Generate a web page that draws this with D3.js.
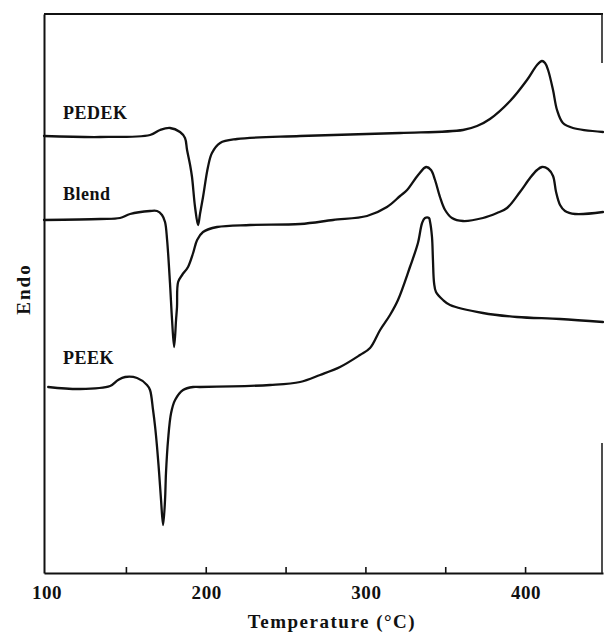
<!DOCTYPE html>
<html><head><meta charset="utf-8">
<script src="https://cdn.jsdelivr.net/npm/d3@7"></script>
<style>
body{margin:0;background:#fff}
svg text{font-family:"Liberation Serif","Times New Roman",serif;font-weight:bold;fill:#111}
</style>
</head><body><svg id="c" width="604" height="632"></svg>
<script>
// Temperature (°C), heat flow (arbitrary units, endo up)
const pedek = [
[98.7,43.7],[133.8,43.6],[165.1,43.8],[171.4,44.3],[177.6,44.5],[183.9,44.1],[187.0,43.5],[188.3,42.3],[190.2,40.8],[191.4,39.6],[193.3,36.6],[195.2,34.8],[196.4,35.9],[198.3,37.6],[201.4,40.6],[203.9,42.0],[209.0,43.0],[219.6,43.4],[259.1,43.7],[321.7,44.0],[361.1,44.3],[369.9,44.7],[378.0,45.4],[390.6,47.2],[401.2,49.3],[407.5,50.8],[410.6,51.2],[412.5,51.0],[414.4,50.3],[417.5,48.3],[420.0,46.3],[423.7,45.0],[430.0,44.5],[448.8,44.1]
];
const blend = [
[98.7,35.3],[133.8,35.4],[146.3,35.5],[152.6,35.9],[165.1,36.2],[169.5,36.2],[172.6,35.8],[174.5,35.1],[175.8,33.3],[177.6,29.0],[178.9,25.3],[180.2,22.6],[181.4,25.3],[182.0,26.6],[182.7,29.1],[185.2,29.8],[188.9,30.6],[192.1,32.0],[194.6,33.3],[198.3,34.1],[207.1,34.6],[227.7,34.8],[259.1,34.9],[279.7,35.3],[301.0,35.7],[313.5,36.6],[321.7,37.7],[326.1,38.3],[333.0,39.8],[338.0,40.6],[341.1,40.3],[343.6,39.3],[346.7,37.6],[349.9,36.3],[354.2,35.5],[361.1,35.2],[373.6,35.5],[382.4,36.0],[388.7,36.5],[396.8,38.1],[403.1,39.5],[407.5,40.3],[410.6,40.6],[414.4,40.4],[417.5,39.7],[419.4,38.1],[421.9,36.8],[425.0,36.2],[431.3,35.9],[448.8,36.1]
];
const peek = [
[101.3,18.6],[121.3,18.4],[140.1,18.7],[145.1,19.3],[149.5,19.6],[157.0,19.5],[163.2,18.8],[165.1,18.3],[167.0,16.3],[168.3,14.6],[169.5,12.6],[170.8,10.0],[172.0,7.3],[173.3,4.8],[174.5,7.3],[175.1,10.0],[176.4,13.3],[178.3,16.0],[180.8,17.3],[185.8,18.3],[192.1,18.6],[196.4,18.6],[240.3,18.8],[259.1,19.1],[271.6,19.8],[284.1,20.6],[296.6,21.8],[302.9,22.5],[309.2,24.3],[315.4,25.8],[320.4,27.3],[327.9,30.6],[332.9,33.0],[335.5,35.0],[337.3,35.5],[339.8,35.5],[340.5,35.1],[341.7,33.6],[342.3,31.3],[343.0,29.0],[344.2,28.1],[348.6,27.3],[353.0,26.8],[373.6,26.0],[394.9,25.6],[421.9,25.4],[448.8,25.1]
];
const seriesNames = ["PEDEK","Blend","PEEK"];
const labelPos = [[110.6,45.4],[110.6,37.3],[110.6,20.9]];
const tickValues = [150,200,250,300,350,400];
const tickLabels = [100,200,300,400];
const xTitle = "Temperature (°C)";
const yTitle = "Endo";

const svg = d3.select("#c");
const x = d3.scaleLinear().domain([98.7,448.8]).range([44,603]);
const y = d3.scaleLinear().domain([0,55.9]).range([573,14]);

// frame
const gx = svg.append("g").attr("transform","translate(0,573)")
  .call(d3.axisBottom(x).tickValues(tickValues).tickSize(-6).tickSizeOuter(0).tickFormat(""));
gx.select(".domain").attr("stroke","#111").attr("stroke-width",2);
gx.selectAll(".tick line").attr("stroke","#111").attr("stroke-width",1.6);
const gy = svg.append("g").attr("transform","translate(44,0)")
  .call(d3.axisLeft(y).tickValues([]).tickSizeOuter(0));
gy.select(".domain").attr("stroke","#111").attr("stroke-width",2);
svg.append("line").attr("x1",x.range()[0]).attr("x2",x.range()[1]).attr("y1",y.range()[1]).attr("y2",y.range()[1])
  .attr("stroke","#111").attr("stroke-width",2);
// right border (partially visible in the original)
[[55.9,51.0],[13.0,0]].forEach(s=>{
  svg.append("line").attr("x1",x.range()[1]-1).attr("x2",x.range()[1]-1).attr("y1",y(s[0])).attr("y2",y(s[1]))
    .attr("stroke","#222").attr("stroke-width",1.6);
});

// tick labels
svg.append("g").selectAll("text").data(tickLabels).join("text")
  .attr("x",d=>x(d)+1).attr("y",599).attr("text-anchor","middle")
  .style("font-size","19px").style("letter-spacing","0.6px").text(d=>d);

svg.append("text").attr("x",332).attr("y",628).attr("text-anchor","middle")
  .style("font-size","19px").style("letter-spacing","1.5px").text(xTitle);
svg.append("text").attr("transform","translate(30,289) rotate(-90)").attr("text-anchor","middle")
  .style("font-size","19px").style("letter-spacing","2px").text(yTitle);

// curves
const line = d3.line().x(d=>x(d[0])).y(d=>y(d[1])).curve(d3.curveCatmullRom.alpha(0.5));
[pedek,blend,peek].forEach(s=>{
  svg.append("path").datum(s).attr("d",line).attr("fill","none")
    .attr("stroke","#111").attr("stroke-width",2.3).attr("stroke-linejoin","round").attr("stroke-linecap","round");
});
svg.append("g").selectAll("text").data(seriesNames).join("text")
  .attr("x",(d,i)=>x(labelPos[i][0])).attr("y",(d,i)=>y(labelPos[i][1]))
  .style("font-size","18px").style("letter-spacing","0.5px").text(d=>d);
</script></body></html>
